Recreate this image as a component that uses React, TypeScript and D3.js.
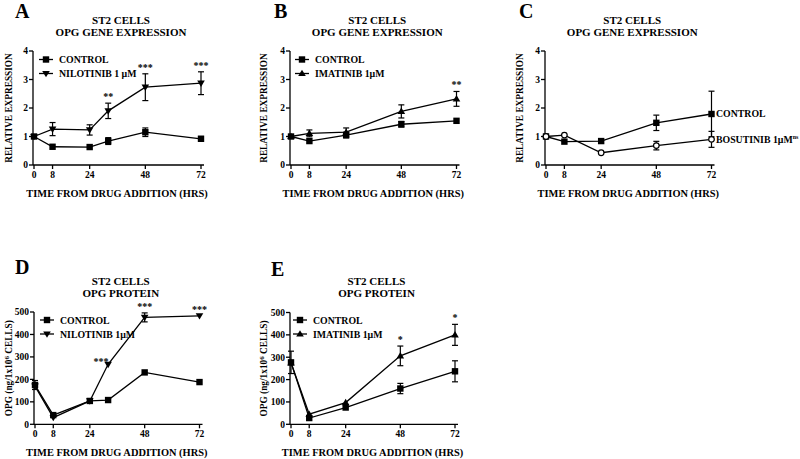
import * as React from 'react';
import * as d3 from 'd3';

// panel A - OPG gene expression, nilotinib
const hoursA = [0, 8, 24, 32, 48, 72];
const aControl = [1.0, 0.64, 0.63, 0.84, 1.15, 0.92];
const aControlErr = [0, 0, 0, 0.12, 0.15, 0.08];
const aNilotinib = [1.0, 1.26, 1.23, 1.9, 2.73, 2.87];
const aNilotinibErr = [0, 0.23, 0.18, 0.27, 0.47, 0.4];
const aStars = ['', '', '', '**', '***', '***'];

// panel B - OPG gene expression, imatinib
const hoursB = [0, 8, 24, 48, 72];
const bControl = [1.0, 0.84, 1.05, 1.43, 1.55];
const bControlErr = [0, 0, 0.1, 0.1, 0];
const bImatinib = [1.0, 1.11, 1.15, 1.88, 2.32];
const bImatinibErr = [0, 0.12, 0.15, 0.23, 0.26];
const bStars = ['', '', '', '', '**'];

// panel C - OPG gene expression, bosutinib
const hoursC = [0, 8, 24, 48, 72];
const cControl = [1.0, 0.82, 0.84, 1.48, 1.79];
const cControlErr = [0, 0, 0, 0.27, 0.8];
const cBosutinib = [1.0, 1.05, 0.43, 0.68, 0.9];
const cBosutinibErr = [0, 0, 0, 0.15, 0.28];

// panel D - OPG protein, nilotinib
const hoursD = [0, 8, 24, 32, 48, 72];
const dControl = [175, 41, 104, 108, 231, 188];
const dControlErr = [20, 0, 0, 0, 0, 0];
const dNilotinib = [170, 30, 104, 267, 476, 483];
const dNilotinibErr = [0, 0, 0, 0, 20, 0];
const dStars = ['', '', '', '***', '***', '***'];

// panel E - OPG protein, imatinib
const hoursE = [0, 8, 24, 48, 72];
const eControl = [277, 28, 75, 160, 237];
const eControlErr = [50, 0, 0, 23, 47];
const eImatinib = [275, 45, 97, 306, 400];
const eImatinibErr = [0, 0, 0, 44, 47];
const eStars = ['', '', '', '*', '*'];

const xTicks = [0, 8, 24, 48, 72];
const geneTicks = [0, 1, 2, 3, 4];
const proteinTicks = [0, 100, 200, 300, 400, 500];

const FONT = '"Liberation Serif", "Times New Roman", serif';

type Marker = 'square' | 'down' | 'up' | 'circle';

type Series = {
  values: number[];
  err: number[];
  marker: Marker;
  label?: React.ReactNode;
};

type PanelProps = {
  letter: string;
  letterX: number;
  letterY: number;
  title: string[];
  titleY: number;
  yLabel: React.ReactNode;
  yLabelX: number;
  left: number;
  right: number;
  top: number;
  bottom: number;
  yMax: number;
  yTicks: number[];
  hours: number[];
  series: Series[];
  stars?: string[];
  starSeries?: number;
  starDx?: number[];
  legendX?: number;
  legendY?: number;
};

const markerPath = (m: Marker, x: number, y: number) => {
  if (m === 'square') return <rect x={x - 3.2} y={y - 3.2} width={6.4} height={6.4} fill="#000" />;
  if (m === 'down') return <path d={`M${x - 3.8},${y - 2.6}L${x + 3.8},${y - 2.6}L${x},${y + 3.8}Z`} fill="#000" />;
  if (m === 'up') return <path d={`M${x - 3.8},${y + 2.6}L${x + 3.8},${y + 2.6}L${x},${y - 3.8}Z`} fill="#000" />;
  return <circle cx={x} cy={y} r={2.8} fill="#fff" stroke="#000" strokeWidth={1.2} />;
};

const Panel = (p: PanelProps) => {
  const x = d3.scaleLinear().domain([0, 72]).range([p.left + 1, p.right]);
  const y = d3.scaleLinear().domain([0, p.yMax]).range([p.bottom, p.top]);
  const line = d3.line<number>()
    .x((_, i) => x(p.hours[i]))
    .y(d => y(d));
  const cx = (p.left + p.right) / 2;
  const midY = (p.top + p.bottom) / 2;

  return (
    <g fontFamily={FONT} fontWeight="bold" fill="#000">
      <text x={p.letterX} y={p.letterY} fontSize={20}>{p.letter}</text>
      {p.title.map((t, i) => (
        <text key={t} x={cx + 4} y={p.titleY + i * 12.3} fontSize={11} textAnchor="middle">{t}</text>
      ))}
      <text transform={`translate(${p.yLabelX},${midY}) rotate(-90)`} fontSize={9.3} textAnchor="middle">{p.yLabel}</text>
      <text x={cx} y={p.bottom + 32} fontSize={10.4} textAnchor="middle">TIME FROM DRUG ADDITION (HRS)</text>

      {/* y axis */}
      <line x1={p.left} x2={p.left} y1={p.top} y2={p.bottom} stroke="#000" strokeWidth={1.3} />
      {p.yTicks.map(t => (
        <g key={t}>
          <line x1={p.left - 4} x2={p.left} y1={y(t)} y2={y(t)} stroke="#000" strokeWidth={1.3} />
          <text x={p.left - 5} y={y(t) + 3.3} fontSize={9.5} textAnchor="end">{t}</text>
        </g>
      ))}
      {/* x axis */}
      <line x1={p.left} x2={p.right + 3} y1={p.bottom} y2={p.bottom} stroke="#000" strokeWidth={1.3} />
      {xTicks.map(t => (
        <g key={t}>
          <line x1={x(t)} x2={x(t)} y1={p.bottom} y2={p.bottom + 4} stroke="#000" strokeWidth={1.3} />
          <text x={x(t)} y={p.bottom + 13} fontSize={9.5} textAnchor="middle">{t}</text>
        </g>
      ))}

      {p.series.map((s, si) => (
        <g key={si}>
          <path d={line(s.values) || ''} fill="none" stroke="#000" strokeWidth={1.3} />
          {s.values.map((v, i) => s.err[i] > 0 && (
            <g key={i} stroke="#000" strokeWidth={1.2}>
              <line x1={x(p.hours[i])} x2={x(p.hours[i])} y1={y(v + s.err[i])} y2={y(v - s.err[i])} />
              <line x1={x(p.hours[i]) - 3} x2={x(p.hours[i]) + 3} y1={y(v + s.err[i])} y2={y(v + s.err[i])} />
              <line x1={x(p.hours[i]) - 3} x2={x(p.hours[i]) + 3} y1={y(v - s.err[i])} y2={y(v - s.err[i])} />
            </g>
          ))}
          {s.values.map((v, i) => <g key={'m' + i}>{markerPath(s.marker, x(p.hours[i]), y(v))}</g>)}
        </g>
      ))}

      {p.stars && p.starSeries !== undefined && p.stars.map((st, i) => {
        if (!st) return null;
        const s = p.series[p.starSeries!];
        const top = y(s.values[i] + s.err[i]);
        return (
          <text key={'s' + i} x={x(p.hours[i]) + (p.starDx ? p.starDx[i] : 0)} y={top - 3 + (p.starDx && p.starDx[i] ? 4 : 0)}
            fontSize={10} textAnchor="middle">{st}</text>
        );
      })}

      {p.legendX !== undefined && p.series.map((s, i) => (
        <g key={'l' + i}>
          <line x1={p.legendX!} x2={p.legendX! + 14} y1={p.legendY! + i * 14} y2={p.legendY! + i * 14} stroke="#000" strokeWidth={1.3} />
          {markerPath(s.marker, p.legendX! + 7, p.legendY! + i * 14)}
          <text x={p.legendX! + 20} y={p.legendY! + i * 14 + 3.5} fontSize={9.8}>{s.label}</text>
        </g>
      ))}
    </g>
  );
};

const opgLabel = (
  <>
    OPG (ng/1x10<tspan dy={-3} fontSize={7}>6</tspan><tspan dy={3}> CELLS)</tspan>
  </>
);

export default function App() {
  return (
    <svg width={800} height={459} style={{ display: 'block', position: 'absolute', left: 0, top: 0, background: '#fff' }}>
      <rect width={800} height={459} fill="#fff" />
      <Panel
        letter="A" letterX={15} letterY={18} title={['ST2 CELLS', 'OPG GENE EXPRESSION']} titleY={24}
        yLabel="RELATIVE EXPRESSION" yLabelX={12}
        left={33} right={201} top={51} bottom={165} yMax={4} yTicks={geneTicks} hours={hoursA}
        series={[
          { values: aControl, err: aControlErr, marker: 'square', label: 'CONTROL' },
          { values: aNilotinib, err: aNilotinibErr, marker: 'down', label: 'NILOTINIB 1 µM' },
        ]}
        stars={aStars} starSeries={1} legendX={39} legendY={59.5}
      />
      <Panel
        letter="B" letterX={274} letterY={18} title={['ST2 CELLS', 'OPG GENE EXPRESSION']} titleY={24}
        yLabel="RELATIVE EXPRESSION" yLabelX={267}
        left={290} right={456.5} top={51} bottom={165} yMax={4} yTicks={geneTicks} hours={hoursB}
        series={[
          { values: bControl, err: bControlErr, marker: 'square', label: 'CONTROL' },
          { values: bImatinib, err: bImatinibErr, marker: 'up', label: 'IMATINIB 1µM' },
        ]}
        stars={bStars} starSeries={1} legendX={295} legendY={59.5}
      />
      <Panel
        letter="C" letterX={519} letterY={18} title={['ST2 CELLS', 'OPG GENE EXPRESSION']} titleY={24}
        yLabel="RELATIVE EXPRESSION" yLabelX={523}
        left={545} right={711.5} top={51} bottom={165} yMax={4} yTicks={geneTicks} hours={hoursC}
        series={[
          { values: cControl, err: cControlErr, marker: 'square' },
          { values: cBosutinib, err: cBosutinibErr, marker: 'circle' },
        ]}
      />
      <g fontFamily={FONT} fontWeight="bold" fontSize={9.8}>
        <text x={716} y={117}>CONTROL</text>
        <text x={716} y={143}>BOSUTINIB  1µM<tspan dy={-4} fontSize={6}>ns</tspan></text>
      </g>
      <Panel
        letter="D" letterX={15} letterY={274} title={['ST2 CELLS', 'OPG PROTEIN']} titleY={285}
        yLabel={opgLabel} yLabelX={12}
        left={34} right={199.5} top={312} bottom={424.3} yMax={500} yTicks={proteinTicks} hours={hoursD}
        series={[
          { values: dControl, err: dControlErr, marker: 'square', label: 'CONTROL' },
          { values: dNilotinib, err: dNilotinibErr, marker: 'down', label: 'NILOTINIB 1µM' },
        ]}
        stars={dStars} starSeries={1} starDx={[0, 0, 0, -7, 0, 0]} legendX={40} legendY={320}
      />
      <Panel
        letter="E" letterX={271} letterY={276} title={['ST2 CELLS', 'OPG PROTEIN']} titleY={285}
        yLabel={opgLabel} yLabelX={267}
        left={290} right={455} top={312.5} bottom={424.3} yMax={500} yTicks={proteinTicks} hours={hoursE}
        series={[
          { values: eControl, err: eControlErr, marker: 'square', label: 'CONTROL' },
          { values: eImatinib, err: eImatinibErr, marker: 'up', label: 'IMATINIB 1µM' },
        ]}
        stars={eStars} starSeries={1} legendX={293} legendY={320}
      />
    </svg>
  );
}
